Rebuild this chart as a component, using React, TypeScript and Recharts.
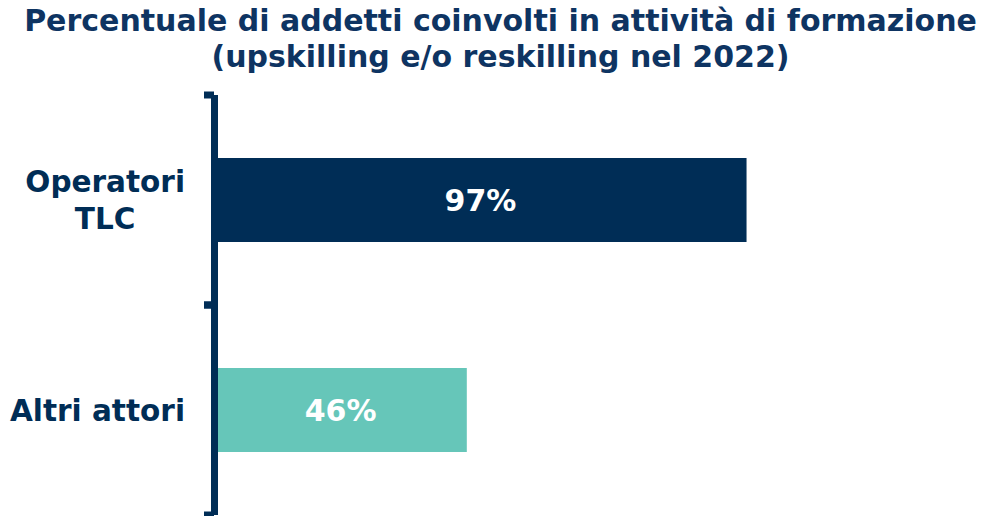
import { BarChart, Bar, XAxis, YAxis, Cell, LabelList } from 'recharts';

const categories = ['Operatori TLC', 'Altri attori'];
const shares = [97, 46];
const tickLines: string[][] = [['Operatori', 'TLC'], ['Altri attori']];
const titleLines = [
  'Percentuale di addetti coinvolti in attività di formazione',
  '(upskilling e/o reskilling nel 2022)',
];

const data = categories.map((name, i) => ({ name, value: shares[i] }));

const NAVY = '#002D56';
const TITLE = '#0E3462';
const barColors = [NAVY, '#66C6B9'];
const FONT = '"DejaVu Sans", sans-serif';

const W = 983;
const H = 516;
const margin = { top: 95, right: 220, bottom: 1, left: 0 };
const axisWidth = 214.5;
const halfBand = (H - margin.top - margin.bottom) / (categories.length * 2);

let ctx: CanvasRenderingContext2D | null = null;
function textWidth(s: string, size: number) {
  if (!ctx) ctx = document.createElement('canvas').getContext('2d');
  if (!ctx) return s.length * size * 0.6;
  ctx.font = `700 ${size}px ${FONT}`;
  return ctx.measureText(s).width;
}

const LABEL_SIZE = 29.5;
const LABEL_RIGHT = 185;
const LINE_GAP = 37;

function CategoryTick(props: any) {
  const { y, payload, index } = props;
  const lines = tickLines[index] ?? [String(payload.value)];
  const widest = Math.max(...lines.map((l) => textWidth(l, LABEL_SIZE)));
  const cx = LABEL_RIGHT - widest / 2;
  const startY = y - ((lines.length - 1) * LINE_GAP) / 2;
  return (
    <g>
      {[y - halfBand, y + halfBand].map((ty, k) => (
        <line key={k} x1={204} x2={214} y1={ty} y2={ty} stroke={NAVY} strokeWidth={7} />
      ))}
      {lines.map((l, k) => (
        <text
          key={l}
          x={cx}
          y={startY + k * LINE_GAP + LABEL_SIZE * 0.36}
          textAnchor="middle"
          fill={NAVY}
          fontFamily={FONT}
          fontWeight={700}
          fontSize={LABEL_SIZE}
        >
          {l}
        </text>
      ))}
    </g>
  );
}

export default function App() {
  return (
    <div style={{ position: 'absolute', left: 0, top: 0, width: W, height: H, background: '#fff' }}>
      <div
        style={{
          position: 'absolute',
          top: 3,
          left: 18,
          right: 0,
          textAlign: 'center',
          fontFamily: FONT,
          fontWeight: 700,
          fontSize: 30,
          lineHeight: '36px',
          color: TITLE,
          whiteSpace: 'nowrap',
        }}
      >
        {titleLines.map((t) => (
          <div key={t}>{t}</div>
        ))}
      </div>
      <BarChart layout="vertical" width={W} height={H} data={data} margin={margin} barSize={84}>
        <XAxis type="number" domain={[0, 100]} hide />
        <YAxis
          type="category"
          dataKey="name"
          width={axisWidth}
          axisLine={{ stroke: NAVY, strokeWidth: 7 }}
          tickLine={false}
          tick={<CategoryTick />}
          interval={0}
        />
        <Bar dataKey="value" isAnimationActive={false}>
          {data.map((d, i) => (
            <Cell key={d.name} fill={barColors[i]} />
          ))}
          <LabelList
            dataKey="value"
            position="center"
            formatter={(v: any) => `${v}%`}
            fill="#fff"
            fontFamily={FONT}
            fontWeight={700}
            fontSize={30}
          />
        </Bar>
      </BarChart>
    </div>
  );
}
